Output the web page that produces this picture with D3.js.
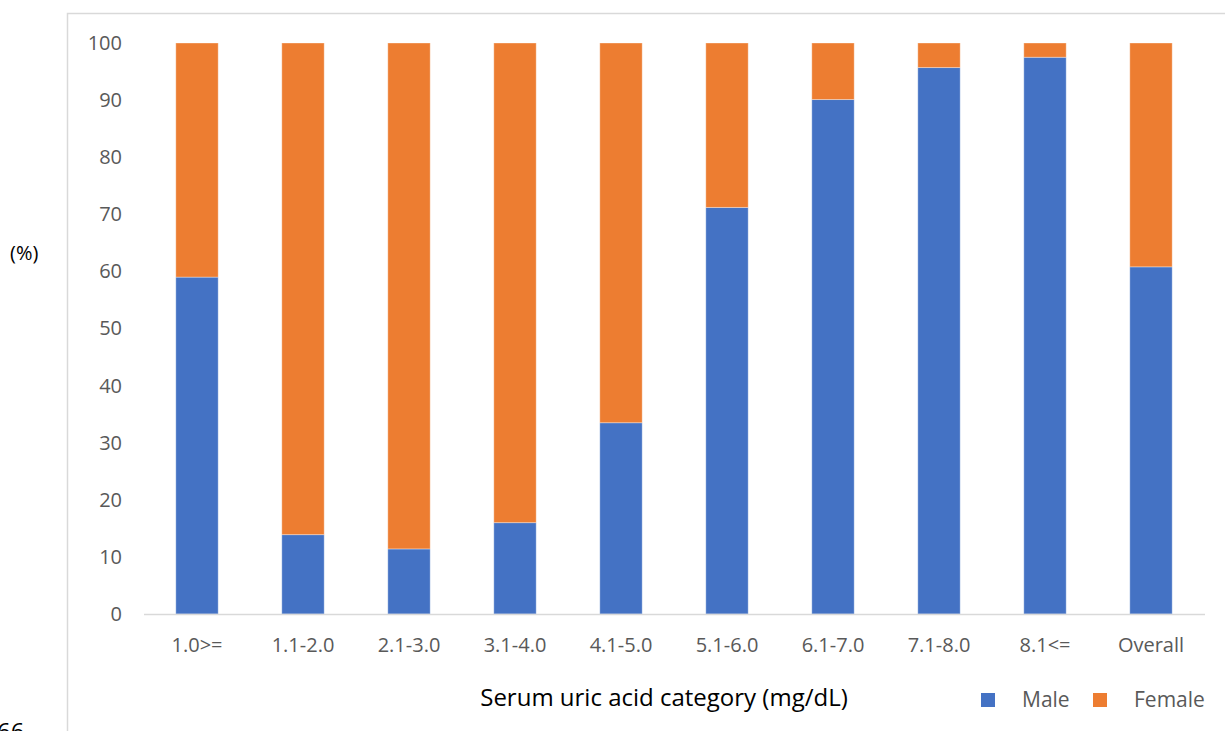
<!DOCTYPE html>
<html lang="en">
<head>
<meta charset="utf-8">
<style type="text/css">
    body { margin: 0; background: #fff; font-family: "Open Sans", sans-serif; }
    svg { display: block; }
    .tick text { fill: #595959; }
</style>
</head>
<body>
<div id="chart"></div>
<script src="https://d3js.org/d3.v7.min.js"></script>
<script type="text/javascript">
    var categories = ["1.0>=", "1.1-2.0", "2.1-3.0", "3.1-4.0", "4.1-5.0", "5.1-6.0", "6.1-7.0", "7.1-8.0", "8.1<=", "Overall"];
    var male = [59.0, 13.9, 11.4, 16.0, 33.5, 71.2, 90.1, 95.7, 97.5, 60.8];
    var female = male.map(function (v) { return 100 - v; });
    var yTicks = [0, 10, 20, 30, 40, 50, 60, 70, 80, 90, 100];
    var seriesNames = ["Male", "Female"];
    var colors = ["#4472c4", "#ed7d31"];

    var width = 1225, height = 731;

    var svg = d3.select("#chart").append("svg")
        .attr("width", width)
        .attr("height", height);

    // chart frame (only left and top edges are visible)
    svg.append("rect")
        .attr("x", 67.5).attr("y", 13.5)
        .attr("width", 1300).attr("height", 800)
        .attr("fill", "none")
        .attr("stroke", "#d9d9d9")
        .attr("stroke-width", 1.5);

    var x = d3.scaleBand().domain(categories).range([144, 1204]).paddingInner(0.6).paddingOuter(0.3);
    var y = d3.scaleLinear().domain([0, 100]).range([614, 43]);

    var rows = categories.map(function (c, i) { return {cat: c, Male: male[i], Female: female[i]}; });
    var stack = d3.stack().keys(seriesNames)(rows);

    svg.selectAll("g.series")
        .data(stack)
        .enter().append("g")
        .attr("class", "series")
        .attr("fill", function (d, i) { return colors[i]; })
        .selectAll("rect")
        .data(function (d) { return d; })
        .enter().append("rect")
        .attr("x", function (d) { return x(d.data.cat); })
        .attr("y", function (d) { return y(d[1]); })
        .attr("width", x.bandwidth())
        .attr("height", function (d) { return y(d[0]) - y(d[1]); })
        .attr("stroke", "#fff")
        .attr("stroke-opacity", 0.35)
        .attr("stroke-width", 1);

    // y axis (no line, no ticks)
    var yAxis = svg.append("g")
        .attr("transform", "translate(122,0)")
        .call(d3.axisLeft(y).tickValues(yTicks).tickSize(0).tickPadding(0));
    yAxis.select(".domain").remove();
    yAxis.selectAll("text")
        .attr("font-family", "Open Sans, sans-serif")
        .attr("font-size", 20);

    // x axis
    var xAxis = svg.append("g")
        .attr("transform", "translate(0,614.5)")
        .call(d3.axisBottom(x).tickSize(0).tickPadding(23));
    xAxis.select(".domain")
        .attr("d", "M144,0H1205")
        .attr("stroke", "#d9d9d9")
        .attr("stroke-width", 1.5);
    xAxis.selectAll("text")
        .attr("font-family", "Open Sans, sans-serif")
        .attr("font-size", 20);

    svg.append("text")
        .attr("x", 664).attr("y", 706)
        .attr("text-anchor", "middle")
        .attr("font-size", 24)
        .attr("fill", "#000")
        .text("Serum uric acid category (mg/dL)");

    svg.append("text")
        .attr("x", 10).attr("y", 260)
        .attr("font-size", 20)
        .attr("fill", "#000")
        .text("(%)");

    svg.append("text")
        .attr("x", -3).attr("y", 740)
        .attr("font-size", 24)
        .attr("fill", "#000")
        .text("66");

    // legend
    var legendX = [981, 1093];
    var legend = svg.selectAll("g.legend")
        .data(seriesNames)
        .enter().append("g")
        .attr("class", "legend")
        .attr("transform", function (d, i) { return "translate(" + legendX[i] + ",693)"; });
    legend.append("rect")
        .attr("width", 14).attr("height", 14)
        .attr("fill", function (d, i) { return colors[i]; });
    legend.append("text")
        .attr("x", 41).attr("y", 14)
        .attr("font-size", 21)
        .attr("fill", "#595959")
        .text(function (d) { return d; });
</script>
</body>
</html>
